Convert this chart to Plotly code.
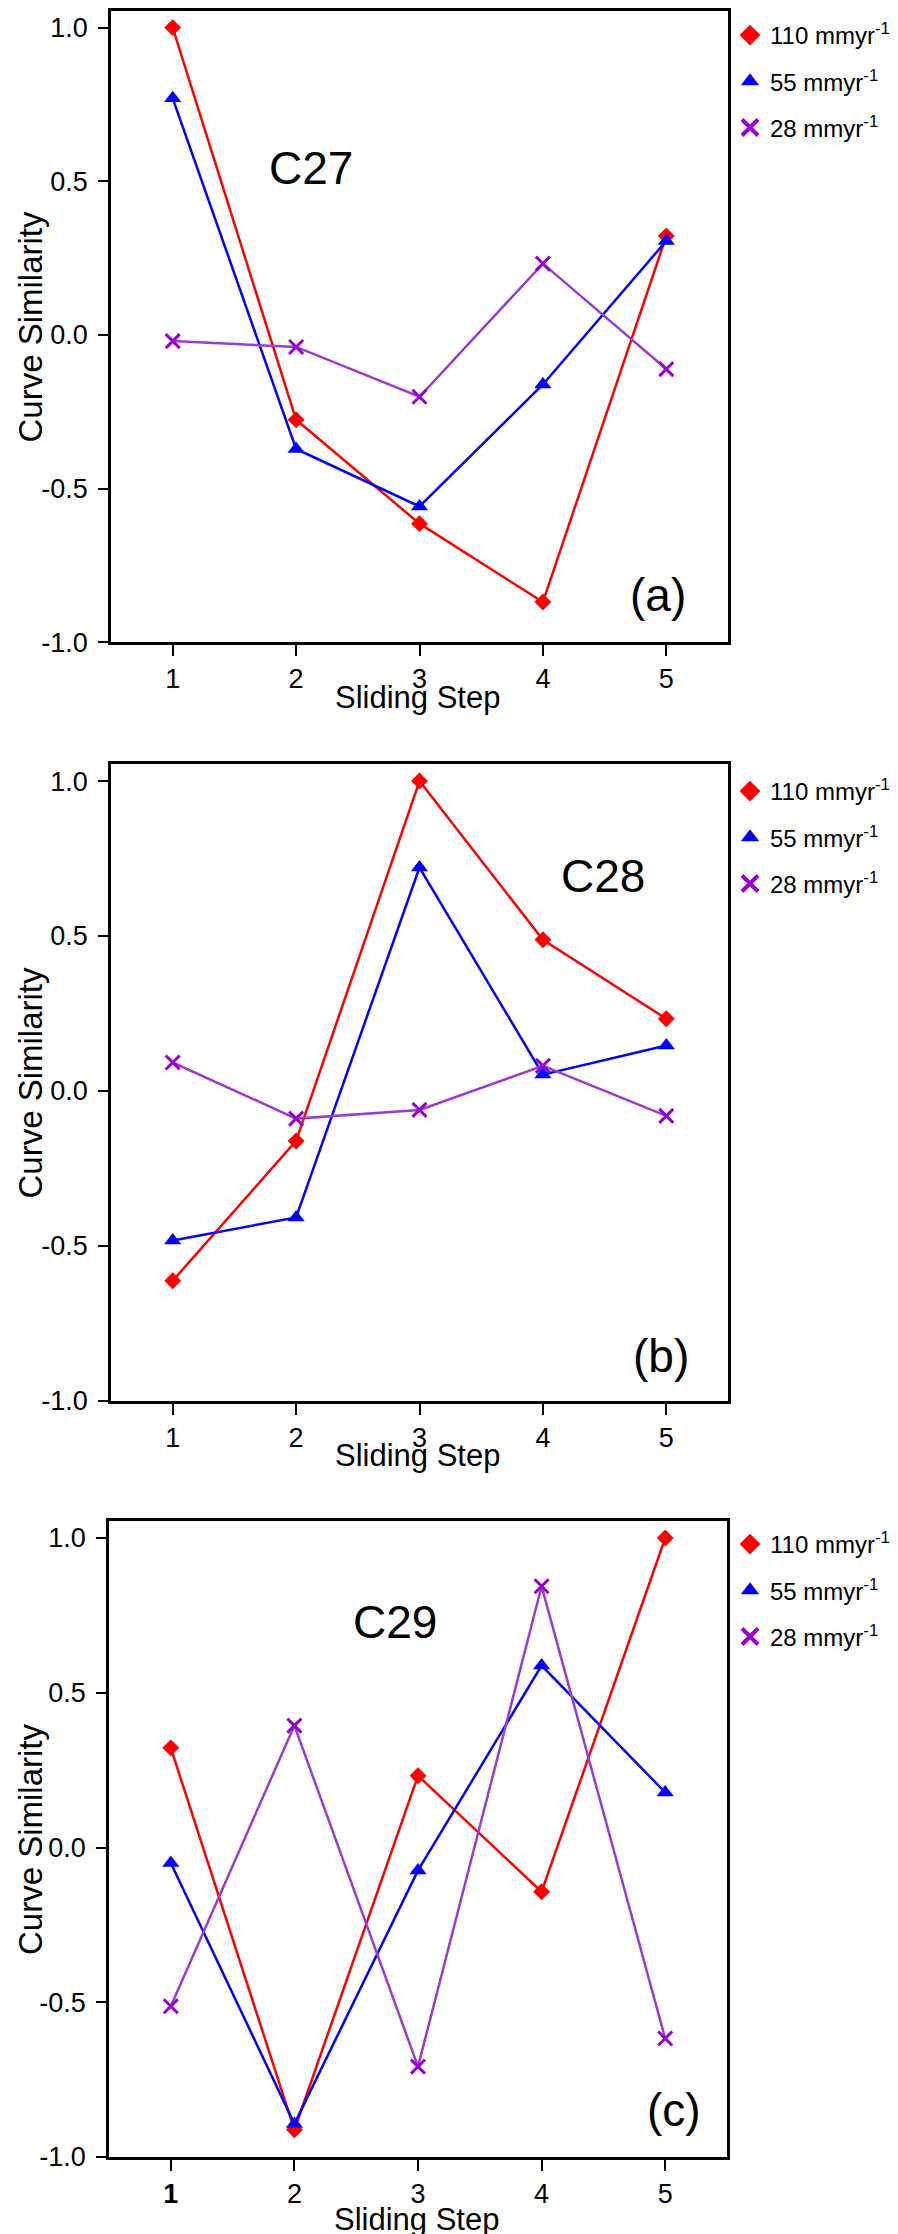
import plotly.graph_objects as go

# ---------------- data ----------------
STEPS = [1, 2, 3, 4, 5]
X_TICK_LABELS = ["1", "2", "3", "4", "5"]
X_TICK_LABELS_C = ["<b>1</b>", "2", "3", "4", "5"]
Y_TICK_VALUES = [-1.0, -0.5, 0.0, 0.5, 1.0]
Y_TICK_LABELS = ["-1.0", "-0.5", "0.0", "0.5", "1.0"]

SERIES_NAMES = ["110 mmyr<sup>-1</sup>", "55 mmyr<sup>-1</sup>", "28 mmyr<sup>-1</sup>"]

C27_110 = [1.0, -0.276, -0.614, -0.869, 0.322]
C27_55 = [0.77, -0.371, -0.558, -0.161, 0.306]
C27_28 = [-0.020, -0.039, -0.201, 0.232, -0.111]

C28_110 = [-0.612, -0.161, 1.0, 0.488, 0.233]
C28_55 = [-0.482, -0.408, 0.721, 0.053, 0.147]
C28_28 = [0.092, -0.089, -0.061, 0.081, -0.080]

C29_110 = [0.322, -0.912, 0.232, -0.143, 1.0]
C29_55 = [-0.050, -0.893, -0.074, 0.588, 0.178]
C29_28 = [-0.513, 0.394, -0.708, 0.844, -0.617]

PANEL_NAMES = ["C27", "C28", "C29"]
PANEL_LETTERS = ["(a)", "(b)", "(c)"]
X_TITLE = "Sliding Step"
Y_TITLE = "Curve Similarity"

# ---------------- styles ----------------
FONT = "Arial, 'Liberation Sans', Helvetica, sans-serif"
RED, BLUE = "#ff0000", "#0000ff"
PURPLE_M, PURPLE_L = "#9600d2", "#9a3ccf"

W, H = 898, 2234
ML, MR, MT, MB = 100, 178, 2, 85
PW, PH = W - ML - MR, H - MT - MB


def px_x(p):
    return min(max((p - ML) / PW, 0.0), 1.0)


def px_x_free(p):
    return (p - ML) / PW


def px_y(p):
    return (H - MB - p) / PH


# pixel boxes for each panel
YBOXES = [(2.7, 634.3), (756, 1393), (1513, 2149)]
XBOXES = [(103, 720), (103, 720), (101, 719)]
YRANGE = [-1.0, 1.055]
XRANGE = [0.5, 5.5]

panels = [
    (C27_110, C27_55, C27_28),
    (C28_110, C28_55, C28_28),
    (C29_110, C29_55, C29_28),
]
name_pos = [(2.12, 0.544), (4.49, 0.695), (2.81, 0.729)]
letter_pos = [(4.93, -0.845), (4.96, -0.854), (5.07, -0.848)]
xtitle_px = [689, 1447, 2211]
legend_top_px = [5, 761, 1514]

styles = [
    dict(color=RED, line=RED, symbol="diamond", size=13, lw=0),
    dict(color=BLUE, line=BLUE, symbol="triangle-up", size=15, lw=0),
    dict(color=PURPLE_M, line=PURPLE_L, symbol="x-thin", size=14, lw=3),
]

fig = go.Figure()
annotations = []
layout_axes = {}

for i, series in enumerate(panels):
    sfx = "" if i == 0 else str(i + 1)
    xa, ya = "x" + sfx, "y" + sfx
    lg = "legend" + sfx
    for j, vals in enumerate(series):
        st = styles[j]
        fig.add_trace(go.Scatter(
            x=STEPS, y=vals, mode="lines+markers", xaxis=xa, yaxis=ya,
            name=SERIES_NAMES[j], showlegend=False,
            line=dict(color=st["line"], width=2.5),
            marker=dict(symbol=st["symbol"], size=st["size"], color=st["color"],
                        line=dict(width=st["lw"], color=st["color"])),
        ))
    # legend-only entries (markers only, like the original key)
    for j in range(3):
        st = styles[j]
        fig.add_trace(go.Scatter(
            x=[None], y=[None], mode="markers", xaxis=xa, yaxis=ya,
            name=SERIES_NAMES[j], legend=lg, showlegend=True,
            legendgroup=f"p{i}s{j}",
            marker=dict(symbol=st["symbol"], size=16, color=st["color"],
                        line=dict(width=4 if st["lw"] else 0, color=st["color"])),
        ))

    top, bot = YBOXES[i]
    left, right = XBOXES[i]
    axis_common = dict(
        showline=True, linecolor="black", linewidth=2.5, mirror=True,
        ticks="outside", tickwidth=2, tickcolor="black",
        showgrid=False, zeroline=False, automargin=False,
        tickfont=dict(family=FONT, size=27, color="black"),
    )
    layout_axes["xaxis" + sfx] = dict(
        axis_common, domain=[px_x(left), px_x(right)], anchor=ya, range=XRANGE,
        tickmode="array", tickvals=STEPS, ticklen=11,
        ticktext=X_TICK_LABELS_C if i == 2 else X_TICK_LABELS,
    )
    layout_axes["yaxis" + sfx] = dict(
        axis_common, domain=[px_y(bot), px_y(top)], anchor=xa, range=YRANGE,
        tickmode="array", tickvals=Y_TICK_VALUES, ticktext=Y_TICK_LABELS,
        ticklen=10, ticklabelstandoff=5,
    )
    layout_axes[lg] = dict(
        x=px_x_free(722), xanchor="left", y=px_y(legend_top_px[i]), yanchor="top",
        bgcolor="rgba(0,0,0,0)", borderwidth=0,
        font=dict(family=FONT, size=24, color="black"),
        traceorder="grouped", tracegroupgap=12,
    )

    annotations += [
        dict(text=PANEL_NAMES[i], x=name_pos[i][0], y=name_pos[i][1], xref=xa, yref=ya,
             showarrow=False, font=dict(family=FONT, size=46, color="black")),
        dict(text=PANEL_LETTERS[i], x=letter_pos[i][0], y=letter_pos[i][1], xref=xa, yref=ya,
             showarrow=False, font=dict(family=FONT, size=46, color="black")),
        dict(text=X_TITLE, x=px_x_free((left + right) / 2 - 2), y=px_y(xtitle_px[i]),
             xref="paper", yref="paper",
             showarrow=False, xanchor="center", yanchor="middle",
             font=dict(family=FONT, size=31, color="black")),
        dict(text=Y_TITLE, x=px_x_free(22), y=px_y((top + bot) / 2), xref="paper", yref="paper",
             showarrow=False, textangle=-90, xanchor="center", yanchor="middle",
             font=dict(family=FONT, size=33, color="black")),
    ]

fig.update_layout(
    width=W, height=H,
    margin=dict(l=ML, r=MR, t=MT, b=MB, pad=0),
    paper_bgcolor="white", plot_bgcolor="white",
    template="none",
    annotations=annotations,
    **layout_axes,
)

fig.write_html("out.html")
